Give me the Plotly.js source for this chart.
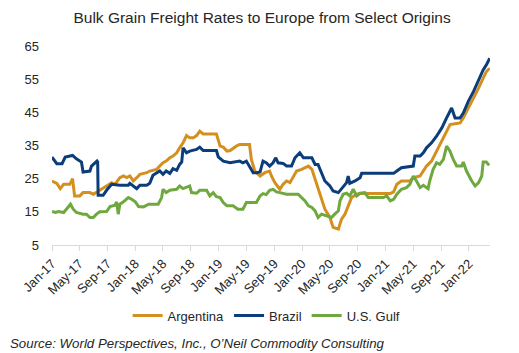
<!DOCTYPE html>
<html>
<head>
<meta charset="utf-8">
<script src="https://cdn.plot.ly/plotly-3.0.1.min.js"></script>
<style>html,body{margin:0;padding:0;background:#fff}#chart{width:519px;height:353px}</style>
</head>
<body>
<div id="chart"></div>
<script>
const brazilDates = ["2017-01-01","2017-01-22","2017-02-14","2017-02-28","2017-04-01","2017-04-18","2017-05-10","2017-05-17","2017-06-16","2017-06-23","2017-07-17","2017-07-20","2017-07-22","2017-08-13","2017-08-28","2017-09-19","2017-10-25","2017-12-01","2017-12-08","2017-12-23","2018-01-07","2018-01-21","2018-02-20","2018-03-05","2018-03-19","2018-04-18","2018-05-02","2018-05-16","2018-06-01","2018-06-15","2018-07-01","2018-07-14","2018-07-23","2018-07-29","2018-08-13","2018-08-27","2018-09-26","2018-10-10","2018-10-25","2018-12-22","2018-12-30","2019-01-21","2019-02-20","2019-04-03","2019-04-17","2019-05-02","2019-05-16","2019-06-01","2019-06-15","2019-07-01","2019-07-14","2019-07-28","2019-08-12","2019-08-27","2019-09-08","2019-09-18","2019-10-10","2019-10-25","2019-11-16","2019-12-01","2019-12-22","2020-01-07","2020-02-13","2020-02-27","2020-03-11","2020-03-26","2020-04-10","2020-05-02","2020-05-16","2020-06-08","2020-06-22","2020-07-14","2020-07-21","2020-07-28","2020-08-20","2020-09-11","2020-09-18","2021-02-05","2021-02-19","2021-03-11","2021-05-02","2021-05-09","2021-06-01","2021-06-15","2021-06-29","2021-07-21","2021-08-12","2021-09-04","2021-09-25","2021-10-17","2021-11-01","2021-11-23","2021-12-07","2021-12-29","2022-01-21","2022-02-12","2022-03-04","2022-03-18","2022-04-02"];
const brazilValues = [31.5,29.5,29.5,31.5,32,31,30,27,27.3,28.8,30.3,30,20,20,21.5,23.3,23,23,23.6,22.8,22,23,23,23.6,26,27.3,26.3,27.3,26.6,28,27.5,29.3,30,34.3,32.8,33.3,33.8,34.5,33.5,33.5,31.6,30.3,29.8,30.3,29.8,30.3,28.8,26.8,26.8,27,30.3,29.8,28.8,29.8,31.3,29.8,29.6,28.8,28.8,31.3,32.8,31.3,31.3,29.3,29.3,26.8,24.3,22.8,21.3,20.8,22,23.8,25.8,23.6,24.3,25.3,26.6,26.6,27.3,28.3,28.8,31.8,31.8,32.8,34.3,35.8,37.8,40.3,43.3,46.3,43.3,43.3,44.8,48.3,51.3,54.8,57.8,59.3,61.3];

const argDates = ["2017-01-01","2017-01-22","2017-02-06","2017-02-21","2017-03-20","2017-04-01","2017-04-10","2017-05-03","2017-05-17","2017-06-16","2017-07-01","2017-07-21","2017-07-29","2017-08-28","2017-09-19","2017-10-04","2017-10-25","2017-11-10","2017-11-24","2017-12-08","2017-12-23","2018-01-07","2018-01-21","2018-02-20","2018-03-05","2018-04-04","2018-04-18","2018-05-02","2018-05-16","2018-06-01","2018-06-15","2018-07-01","2018-07-14","2018-07-29","2018-08-13","2018-08-27","2018-09-12","2018-09-26","2018-10-10","2018-10-25","2018-12-22","2019-01-07","2019-01-21","2019-02-06","2019-02-20","2019-03-05","2019-03-19","2019-04-03","2019-05-16","2019-05-24","2019-06-08","2019-07-01","2019-07-22","2019-08-12","2019-08-20","2019-09-04","2019-09-26","2019-10-10","2019-10-25","2019-11-09","2019-11-23","2019-12-08","2019-12-30","2020-01-29","2020-02-13","2020-02-27","2020-03-11","2020-03-26","2020-04-10","2020-05-02","2020-05-16","2020-06-08","2020-06-22","2020-07-07","2020-07-21","2020-08-05","2020-08-27","2020-09-11","2021-01-21","2021-02-05","2021-02-19","2021-03-11","2021-04-17","2021-05-02","2021-06-01","2021-06-15","2021-06-29","2021-07-21","2021-08-12","2021-09-04","2021-09-25","2021-10-10","2021-11-23","2021-12-07","2021-12-29","2022-01-21","2022-02-12","2022-03-04","2022-03-18","2022-04-02"];
const argValues = [24.3,23.6,22,23.3,23.3,25,19.8,19.8,20.8,20.8,20.3,21,21.5,22.8,23.8,23.3,25.3,25.8,25.3,25.8,24.3,25.3,26.3,26.8,27.3,27.8,28.8,29.8,30.3,31.3,31.8,32.8,34.3,35.8,38,37.3,37.3,38,39.3,38.5,38.5,34.8,34.5,33.3,33.5,34.2,34.8,35.3,35.3,30.8,27.3,25.8,26.8,27.3,25.8,23.8,21.8,23.3,24.3,23.8,25.3,27.3,27.8,28.8,27.8,24.8,21.8,18.8,15.8,13.3,10.3,9.8,12.8,14.3,16.8,19.3,20.3,20.5,20.5,21,23.3,24.3,24.3,25.3,25.8,27.3,28.8,30.3,33.3,36.3,39.3,41.3,41.8,43.3,46.3,49.3,52.3,55.3,57.3,58.3];

const gulfDates = ["2017-01-01","2017-01-15","2017-01-30","2017-02-21","2017-03-05","2017-03-23","2017-04-04","2017-04-18","2017-05-17","2017-06-01","2017-06-16","2017-07-01","2017-07-15","2017-07-29","2017-08-28","2017-09-12","2017-10-04","2017-10-11","2017-10-18","2017-10-25","2017-11-10","2017-12-01","2017-12-16","2018-01-01","2018-01-15","2018-02-06","2018-02-28","2018-04-11","2018-04-26","2018-05-02","2018-05-16","2018-06-01","2018-07-01","2018-07-14","2018-07-29","2018-08-13","2018-08-27","2018-09-04","2018-09-26","2018-10-10","2018-11-09","2018-11-23","2018-12-08","2018-12-22","2019-01-07","2019-01-21","2019-02-06","2019-03-05","2019-03-26","2019-04-17","2019-05-02","2019-06-01","2019-06-15","2019-07-01","2019-07-14","2019-07-28","2019-08-12","2019-08-27","2019-09-11","2019-09-26","2019-10-25","2019-12-15","2019-12-30","2020-01-14","2020-01-29","2020-02-13","2020-02-27","2020-03-11","2020-03-26","2020-04-17","2020-05-09","2020-05-23","2020-06-08","2020-06-15","2020-06-29","2020-07-14","2020-07-28","2020-08-12","2020-08-27","2020-09-11","2020-10-02","2020-10-17","2020-12-22","2021-01-06","2021-01-21","2021-02-05","2021-02-19","2021-03-11","2021-04-02","2021-04-17","2021-05-02","2021-05-16","2021-06-01","2021-06-15","2021-07-06","2021-07-13","2021-07-28","2021-08-12","2021-08-26","2021-09-11","2021-09-25","2021-10-10","2021-10-24","2021-11-08","2021-11-30","2021-12-07","2021-12-21","2022-01-13","2022-01-28","2022-02-12","2022-02-26","2022-03-04","2022-03-18","2022-03-30"];
const gulfValues = [15.1,14.8,15.1,14.8,15.8,17.3,15.8,14.8,14.3,14.3,13.3,13.3,14.3,15,15.1,16.6,17,18,14.3,17.3,18,19.3,18.8,18,16.6,16.5,17.3,17.3,19.3,21.8,20.8,21.5,21.8,22.8,22,22.3,22.8,20.8,20.6,21.5,21.5,19.8,20.8,19.6,19.3,17.8,16.8,16.8,15.8,15.8,17.8,17.8,17.8,19.8,20.5,20.2,21.5,21.8,21,20.8,20.3,20.3,19.3,18.3,16.8,16.3,15.3,13.3,14.3,13.8,13.3,14.3,15.3,18.3,20.3,20.6,19.8,21.8,19.8,20.6,20.8,19.3,19.3,19.8,18.3,18.8,20.3,21.8,22.3,23.3,25.8,24.3,22.3,23,22,24.3,27.8,29.8,29.3,30.8,34.8,33.3,30.8,28.8,28.8,30,27.3,24.3,22.8,23.8,25.8,30,30,29];

const seriesNames = ["Argentina","Brazil","U.S. Gulf"];
const seriesColors = ["#D48F1F","#0B3D7A","#6FA83E"];

const font = "Arial, 'Liberation Sans', sans-serif";
const traces = [
  {x: argDates, y: argValues},
  {x: brazilDates, y: brazilValues},
  {x: gulfDates, y: gulfValues}
].map((t, i) => ({
  x: t.x, y: t.y, type: "scatter", mode: "lines", name: seriesNames[i],
  line: {color: seriesColors[i], width: 3}
}));

const layout = {
  width: 519, height: 353,
  margin: {l: 52, r: 29, t: 46, b: 108},
  paper_bgcolor: "#fff", plot_bgcolor: "#fff",
  font: {family: font, size: 13, color: "#262626"},
  title: {text: "Bulk Grain Freight Rates to Europe from Select Origins",
          font: {family: font, size: 15.5, color: "#262626"},
          x: 0.505, xanchor: "center", y: 0.95, yanchor: "middle", xref: "container", yref: "container"},
  xaxis: {
    type: "date", range: ["2017-01-01", "2022-04-03"],
    tick0: "2017-01-01", dtick: "M4", tickformat: "%b-%y", tickangle: -45,
    ticks: "outside", ticklen: 5, tickcolor: "#D9D9D9",
    showline: true, linecolor: "#D9D9D9", linewidth: 1,
    showgrid: false, zeroline: false, fixedrange: true,
    tickfont: {family: font, size: 13, color: "#262626"}
  },
  yaxis: {
    range: [5, 65], tick0: 5, dtick: 10,
    showgrid: false, zeroline: false, showline: false,
    ticks: "", ticklabelstandoff: 12,
    tickfont: {family: font, size: 13, color: "#262626"}
  },
  showlegend: true,
  legend: {orientation: "h", x: 0.49, xanchor: "center", y: -0.355, yanchor: "middle",
           font: {family: font, size: 13, color: "#262626"}, itemwidth: 30, tracegroupgap: 0},
  annotations: [{
    text: "<i>Source: World Perspectives, Inc., O’Neil Commodity Consulting</i>",
    xref: "paper", yref: "paper", x: -0.1005, y: -0.497, xanchor: "left", yanchor: "middle",
    showarrow: false, font: {family: font, size: 13.3, color: "#262626"}
  }]
};

Plotly.newPlot("chart", traces, layout, {displayModeBar: false, staticPlot: true});
</script>
</body>
</html>
